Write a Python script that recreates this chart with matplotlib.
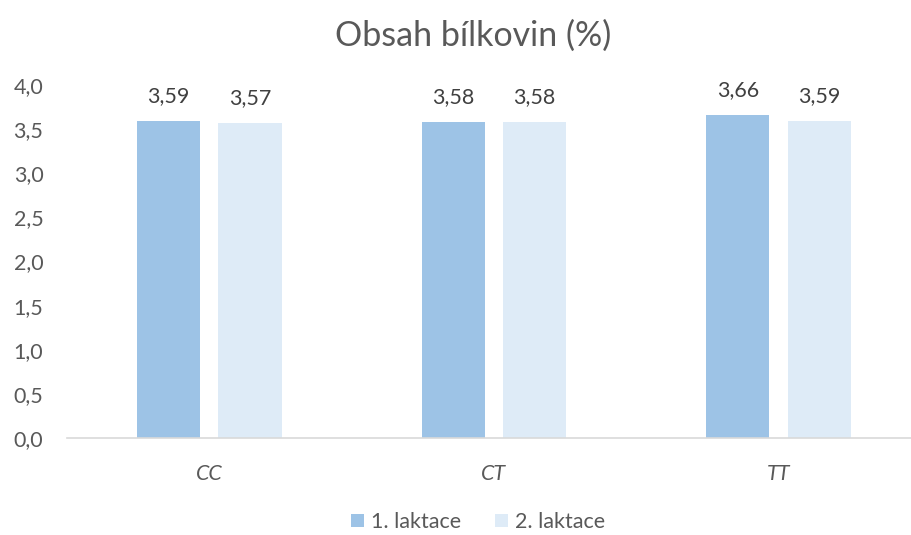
import matplotlib
matplotlib.use("Agg")
import matplotlib.pyplot as plt
from matplotlib.ticker import FuncFormatter
import numpy as np

categories = ["CC", "CT", "TT"]
series_names = ["1. laktace", "2. laktace"]
laktace1 = [3.59, 3.58, 3.66]
laktace2 = [3.57, 3.58, 3.59]
title = "Obsah bílkovin (%)"

colors = ["#9DC3E6", "#DEEBF7"]
txt = "#595959"
plt.rcParams['font.family'] = ['Lato', 'DejaVu Sans']

fig = plt.figure(figsize=(9.11, 5.35), dpi=100)
ax = fig.add_axes([67/911, 97/535, (911-67)/911, 353/535])

x = np.arange(len(categories))
w = 0.222
off = 0.143
for vals, c, s, sign in [(laktace1, colors[0], series_names[0], -1), (laktace2, colors[1], series_names[1], 1)]:
    bars = ax.bar(x + sign*off, vals, width=w, color=c, label=s, zorder=2)
    for b, v in zip(bars, vals):
        ax.annotate(f"{v:.2f}".replace(".", ","), (b.get_x()+b.get_width()/2, v),
                    xytext=(0, 11), textcoords="offset points", ha="center", va="bottom",
                    fontsize=15.5, color="#404040")

ax.set_ylim(0, 4.0)
ax.set_xlim(-0.5, 2 + (911-778.5)/284.5)
ax.set_yticks(np.arange(0, 4.01, 0.5))
ax.yaxis.set_major_formatter(FuncFormatter(lambda v, p: f"{v:.1f}".replace(".", ",")))
ax.set_xticks(x)
ax.set_xticklabels(categories, fontstyle="italic")
for sp in ["top", "right", "left"]:
    ax.spines[sp].set_visible(False)
ax.spines["bottom"].set_color("#D9D9D9")
ax.spines["bottom"].set_linewidth(1.2)
ax.tick_params(axis="both", length=0, colors=txt, labelsize=15.5)
ax.tick_params(axis="x", pad=19)
ax.tick_params(axis="y", pad=17)

fig.text(0.5 + 18/911, 1 - 36/535, title, ha="center", va="center", fontsize=24.5, color=txt)

leg = fig.legend(loc="center", bbox_to_anchor=(478/911, 1 - 522/535), ncol=2, frameon=False,
                 fontsize=15.5, handlelength=0.6, handleheight=0.6, handletextpad=0.3, columnspacing=1.6)
for t in leg.get_texts():
    t.set_color(txt)

fig.savefig("out.png", dpi=100)
